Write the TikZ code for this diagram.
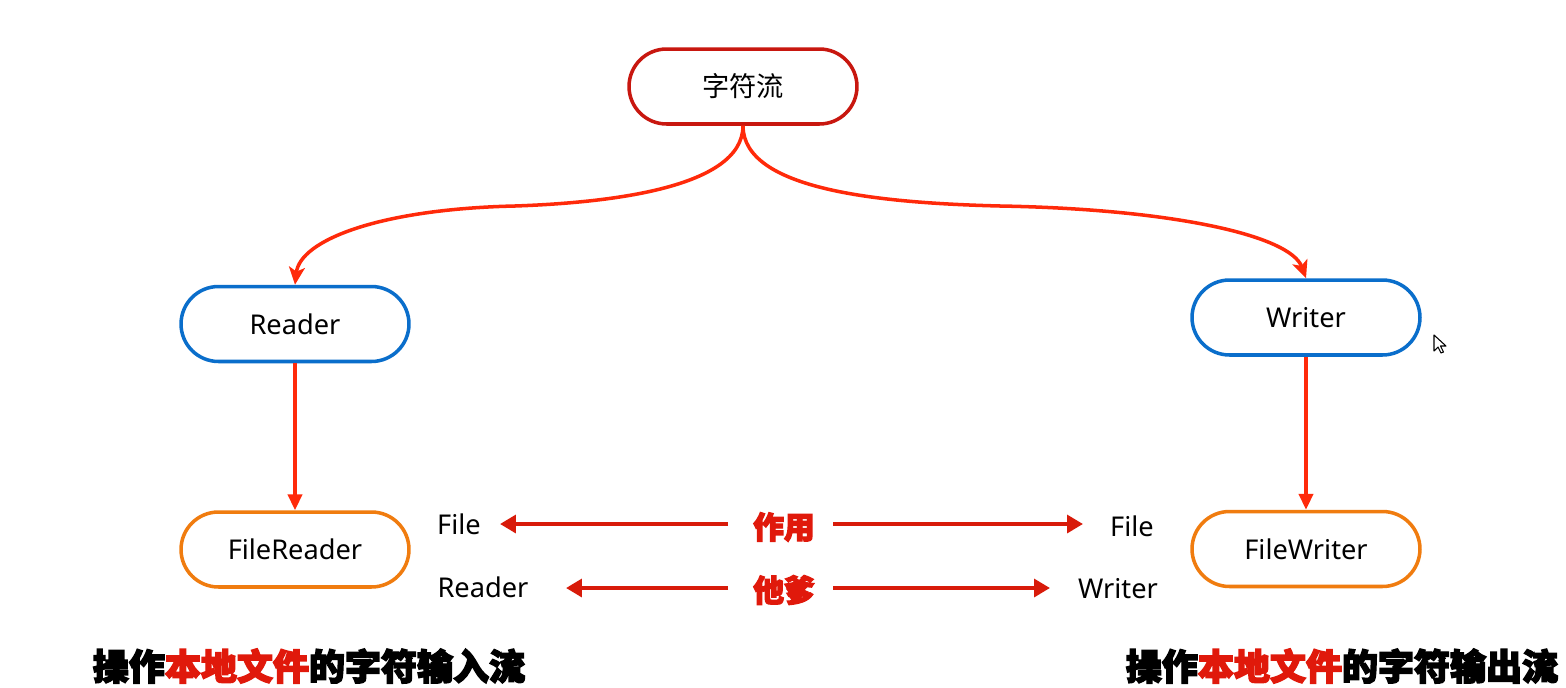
\documentclass[tikz,border=0pt]{standalone}
\usepackage{fontspec}
\setmainfont{Noto Sans}
\newfontfamily\cjk{Noto Sans CJK SC}
\newfontfamily\cjkheavy[BoldFeatures={FakeBold=4}]{Noto Sans CJK SC}
\usetikzlibrary{arrows.meta}
\definecolor{topred}{HTML}{C8170F}
\definecolor{linkred}{HTML}{FF2A0A}
\definecolor{midred}{HTML}{D81B0A}
\definecolor{nodeblue}{HTML}{0A6ECB}
\definecolor{nodeorange}{HTML}{F07C0F}
\definecolor{tagred}{HTML}{E0190B}
\tikzset{
  pill/.style={draw, line width=2pt, fill=white, rounded corners=0.75cm,
    minimum width=4.56cm, minimum height=1.5cm, inner sep=0pt,
    font=\fontsize{15.5}{18}\selectfont},
  link/.style={draw=linkred, line width=2pt,
    -{Stealth[length=10pt,width=9pt,inset=2.5pt]}},
  pointer/.style={draw=midred, line width=2.8pt,
    -{Triangle[length=9pt,width=10pt]}},
  word/.style={font=\fontsize{15.5}{18}\selectfont, inner sep=0pt},
  tag/.style={font=\cjkheavy\bfseries\fontsize{17.5}{20}\selectfont, text=tagred, inner sep=0pt},
  caption/.style={font=\cjkheavy\bfseries\fontsize{20.5}{24}\selectfont, inner sep=0pt}
}
\begin{document}
\begin{tikzpicture}[x=0.02cm, y=-0.02cm]
  \useasboundingbox[fill=white] (0,0) rectangle (1566,687);

  % hierarchy nodes
  \node[pill, draw=topred] (root) at (743,86.5) {\cjk 字符流};
  \node[pill, draw=nodeblue] (reader) at (295,324) {Reader};
  \node[pill, draw=nodeblue] (writer) at (1306,317.5) {Writer};
  \node[pill, draw=nodeorange] (freader) at (295,549.5) {FileReader};
  \node[pill, draw=nodeorange] (fwriter) at (1306,549) {FileWriter};

  % branches from the root
  \coordinate (lmid) at (515,206);
  \coordinate (rmid) at (1000,206);
  \draw[link] (root.south) .. controls (743,190) and (600,203) .. (lmid)
              .. controls (380,209) and (300,240) .. (reader.north);
  \draw[link] (root.south) .. controls (743,190) and (880,203) .. (rmid)
              .. controls (1170,209) and (1290,235) .. (writer.north);

  % inheritance down to the file classes
  \draw[link, -{Triangle[length=9pt,width=8pt]}] (reader.south) -- (freader.north);
  \draw[link, -{Triangle[length=9pt,width=8pt]}] (writer.south) -- (fwriter.north);

  % name breakdown: File + Reader / Writer
  \node[tag] (zy) at (784,527) {作用};
  \node[tag] (td) at (784,590) {他爹};
  \node[word] (fileL) at (459,524) {File};
  \node[word] (fileR) at (1132,526) {File};
  \node[word] (rdL) at (483,587) {Reader};
  \node[word] (wrR) at (1118,589) {Writer};

  \coordinate (zyl) at (728,524);
  \coordinate (zyr) at (833,524);
  \coordinate (tdl) at (728,588);
  \coordinate (tdr) at (833,588);
  \coordinate (fileLend) at (500,524);
  \coordinate (fileRend) at (1083,524);
  \coordinate (rdLend) at (566,588);
  \coordinate (wrRend) at (1050,588);
  \draw[pointer] (zyl) -- (fileLend);
  \draw[pointer] (zyr) -- (fileRend);
  \draw[pointer] (tdl) -- (rdLend);
  \draw[pointer] (tdr) -- (wrRend);

  % captions
  \node[caption] (capL) at (309,666) {操作\textcolor{tagred}{本地文件}的字符输入流};
  \node[caption] (capR) at (1342,666) {操作\textcolor{tagred}{本地文件}的字符输出流};

  % mouse pointer
  \draw[fill=white, line width=0.6pt, line join=round]
    (1434,335) -- (1434,351) -- (1438,347) -- (1441,353) -- (1443.5,352)
    -- (1440.5,346) -- (1446,346) -- cycle;
\end{tikzpicture}
\end{document}
